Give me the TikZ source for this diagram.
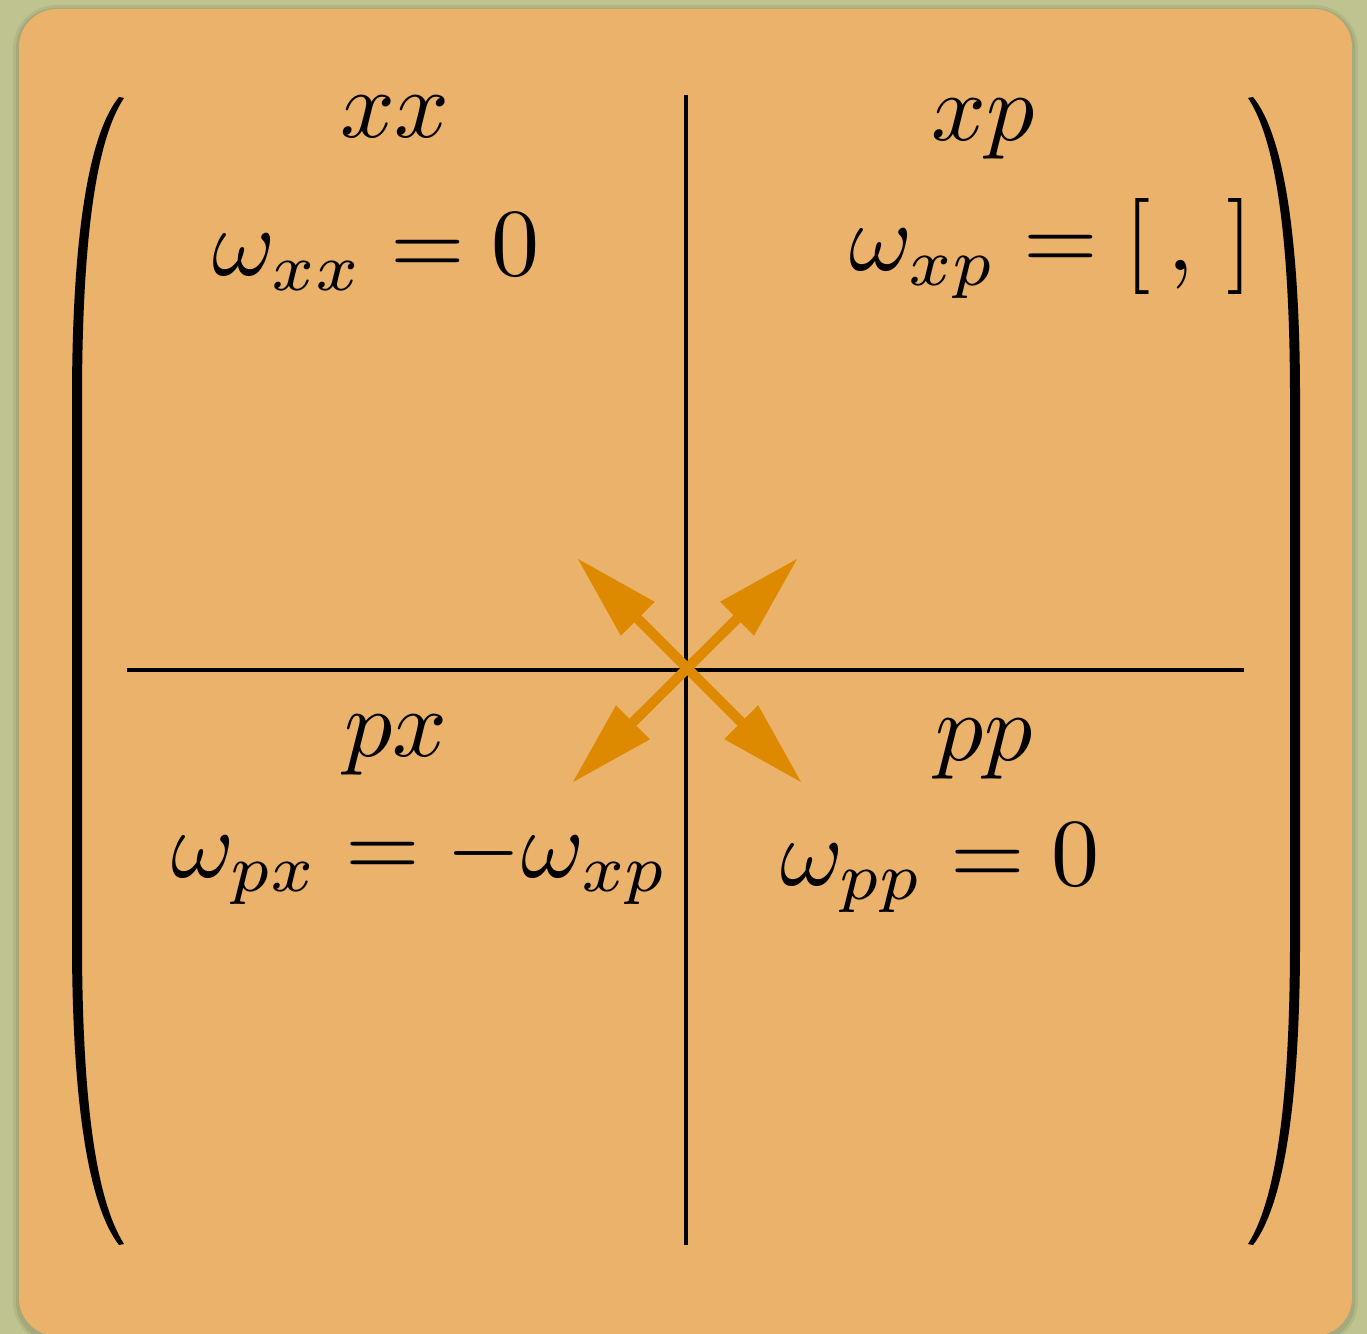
\documentclass[tikz,border=0pt]{standalone}
\usepackage{amsmath}
\usepackage{tikz}
\usetikzlibrary{arrows.meta}

\definecolor{pagegreen}{RGB}{190,195,143}
\definecolor{cardorange}{RGB}{234,178,106}
\definecolor{arroworange}{RGB}{222,138,0}

\begin{document}
\begin{tikzpicture}[
  x=0.25pt, y=-0.25pt,
  lbl/.style={anchor=base, inner sep=0pt, scale=2.4},
  rule/.style={line width=1pt, black},
  swap/.style={{Triangle[length=21.5pt, width=11.25pt]}-{Triangle[length=21.5pt, width=11.25pt]}, line width=2.5pt, arroworange}]
% page and card
\fill[pagegreen] (0,0) rectangle (1367,1334);
\useasboundingbox (0,0) rectangle (1367,1334);
\fill[black, opacity=0.06, rounded corners=11pt] (13,5) rectangle (1358,1345);
\fill[black, opacity=0.08, rounded corners=10pt] (16,8) rectangle (1355,1342);
\fill[cardorange, rounded corners=9.5pt] (19,9) rectangle (1352,1336);
% big parentheses
\foreach \s in {1,-1}{
  \begin{scope}[shift={(686,0)}, xscale=\s]
    \fill[black] (-567,97) .. controls (-598,135) and (-614,240) .. (-614,400)
      -- (-614,940) .. controls (-614,1100) and (-598,1205) .. (-567,1245)
      -- (-562,1244) .. controls (-590,1200) and (-604,1100) .. (-604,940)
      -- (-604,400) .. controls (-604,240) and (-590,140) .. (-562,98) -- cycle;
  \end{scope}
}
% block rules
\coordinate (vtop) at (686,95);
\coordinate (vbot) at (686,1245);
\coordinate (hleft) at (127,670);
\coordinate (hright) at (1244,670);
\draw[rule] (vtop) -- (vbot);
\draw[rule] (hleft) -- (hright);
% labels
\node[lbl] (xx) at (395,138) {$xx$};
\node[lbl] (xp) at (983,141) {$xp$};
\node[lbl] (px) at (396,757) {$px$};
\node[lbl] (pp) at (984,760) {$pp$};
\node[lbl] (wxx) at (376,276) {$\omega_{xx} = 0$};
\node[lbl] (wxp) at (1051,271) {$\omega_{xp} = [\,,\,]$};
\node[lbl] (wpx) at (420,877) {$\omega_{px} = -\omega_{xp}$};
\node[lbl] (wpp) at (940,885) {$\omega_{pp} = 0$};
% crossing arrows
\coordinate (ul) at (577,558);
\coordinate (ur) at (798,558);
\coordinate (ll) at (572,783);
\coordinate (lr) at (802,783);
\draw[swap] (ul) -- (lr);
\draw[swap] (ur) -- (ll);
\end{tikzpicture}
\end{document}
